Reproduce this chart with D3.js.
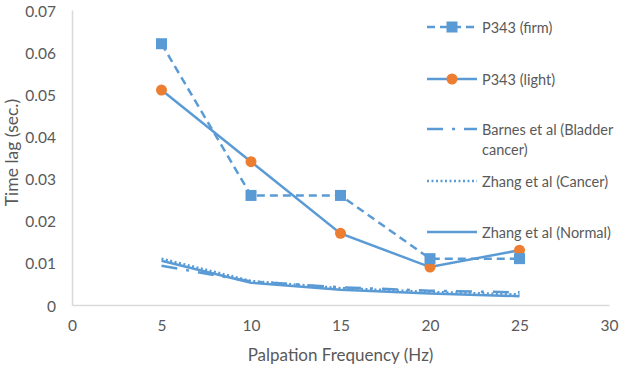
<!DOCTYPE html>
<html>
<head>
<meta charset="utf-8">
<script src="https://cdn.jsdelivr.net/npm/d3@7"></script>
<style>
  body { margin: 0; background: #fff; }
</style>
</head>
<body>
<svg width="624" height="367" font-family="Lato, 'Open Sans', sans-serif"></svg>
<script>
// palpation frequencies (Hz)
const freqs = [5, 10, 15, 20, 25]
const firm = [0.062, 0.026, 0.026, 0.011, 0.011]
const light = [0.051, 0.034, 0.017, 0.009, 0.013]
const barnes = [0.0093, 0.0056, 0.0042, 0.0034, 0.003]
const zhangCancer = [0.011, 0.0057, 0.004, 0.0031, 0.0025]
const zhangNormal = [0.0105, 0.0053, 0.0036, 0.0027, 0.0021]
const xTicks = [0, 5, 10, 15, 20, 25, 30]
const yTicks = [0, 0.01, 0.02, 0.03, 0.04, 0.05, 0.06, 0.07]

const blue = '#5b9bd5'
const orange = '#ed7d31'
const textColor = '#595959'

const svg = d3.select('svg')
const margin = { top: 10, right: 15, bottom: 62, left: 72 }
const width = +svg.attr('width')
const height = +svg.attr('height')
const innerWidth = width - margin.left - margin.right
const innerHeight = height - margin.top - margin.bottom

const xScale = d3.scaleLinear().domain([0, 30]).range([0, innerWidth])
const yScale = d3.scaleLinear().domain([0, 0.07]).range([innerHeight, 0])

const g = svg.append('g')
  .attr('transform', `translate(${margin.left},${margin.top})`)

// axes
const yAxis = d3.axisLeft(yScale).tickValues(yTicks).tickSize(0).tickPadding(16)
  .tickFormat(d => d === 0 ? '0' : d3.format('.2f')(d))
const yAxisG = g.append('g').call(yAxis)
  .attr('font-family', null).attr('font-size', 15.5)
yAxisG.select('.domain').attr('stroke', '#d9d9d9').attr('stroke-width', 1.5)
yAxisG.selectAll('text')
  .attr('fill', textColor)
  .attr('dy', null)
  .attr('dominant-baseline', 'central')

const xAxis = d3.axisBottom(xScale).tickValues(xTicks).tickSize(0).tickPadding(26)
const xAxisG = g.append('g').call(xAxis)
  .attr('transform', `translate(0,${innerHeight})`)
  .attr('font-family', null).attr('font-size', 15.5)
xAxisG.select('.domain').attr('stroke', '#d9d9d9').attr('stroke-width', 1.5)
xAxisG.selectAll('text')
  .attr('fill', textColor)
  .attr('dy', null)

g.append('text')
  .attr('x', innerWidth / 2)
  .attr('y', innerHeight + 56)
  .attr('text-anchor', 'middle')
  .attr('fill', textColor)
  .attr('font-size', 17)
  .text('Palpation Frequency (Hz)')

g.append('text')
  .attr('transform', 'rotate(-90)')
  .attr('x', -innerHeight / 2 + 5)
  .attr('y', -54)
  .attr('text-anchor', 'middle')
  .attr('fill', textColor)
  .attr('font-size', 17.5)
  .text('Time lag (sec.)')

const series = [
  { name: 'P343 (firm)', values: firm, dash: '8,5', marker: 'square' },
  { name: 'P343 (light)', values: light, dash: null, marker: 'circle' },
  { name: ['Barnes et al (Bladder', 'cancer)'], values: barnes, dash: '16,9,3,9', marker: null },
  { name: 'Zhang et al (Cancer)', values: zhangCancer, dash: '2,2.5', marker: null },
  { name: 'Zhang et al (Normal)', values: zhangNormal, dash: null, marker: null }
]

const line = d3.line()
  .x(d => xScale(d[0]))
  .y(d => yScale(d[1]))

const drawMarker = (sel, type, x, y) => {
  if (type === 'square') {
    sel.append('rect')
      .attr('x', x - 5.5).attr('y', y - 5.5)
      .attr('width', 11).attr('height', 11)
      .attr('fill', blue)
  } else if (type === 'circle') {
    sel.append('circle')
      .attr('cx', x).attr('cy', y).attr('r', 5.5)
      .attr('fill', orange)
  }
}

// draw literature lines first, then measured series on top
series.slice().reverse().forEach(s => {
  const pts = freqs.map((f, i) => [f, s.values[i]])
  g.append('path')
    .datum(pts)
    .attr('d', line)
    .attr('fill', 'none')
    .attr('stroke', blue)
    .attr('stroke-width', 2.5)
    .attr('stroke-dasharray', s.dash)
  if (s.marker) {
    pts.forEach(p => drawMarker(g, s.marker, xScale(p[0]), yScale(p[1])))
  }
})

// legend
const legendY = [27, 79, 129, 181, 232]
const legend = svg.append('g')
series.forEach((s, i) => {
  const y = legendY[i]
  legend.append('line')
    .attr('x1', 427).attr('x2', 477)
    .attr('y1', y).attr('y2', y)
    .attr('stroke', blue)
    .attr('stroke-width', 2.5)
    .attr('stroke-dasharray', s.dash)
  drawMarker(legend, s.marker, 452, y)
  const names = Array.isArray(s.name) ? s.name : [s.name]
  names.forEach((n, j) => {
    legend.append('text')
      .attr('x', 482)
      .attr('y', y + 6 + j * 20)
      .attr('fill', textColor)
      .attr('font-size', 14.5)
      .text(n)
  })
})
</script>
</body>
</html>
